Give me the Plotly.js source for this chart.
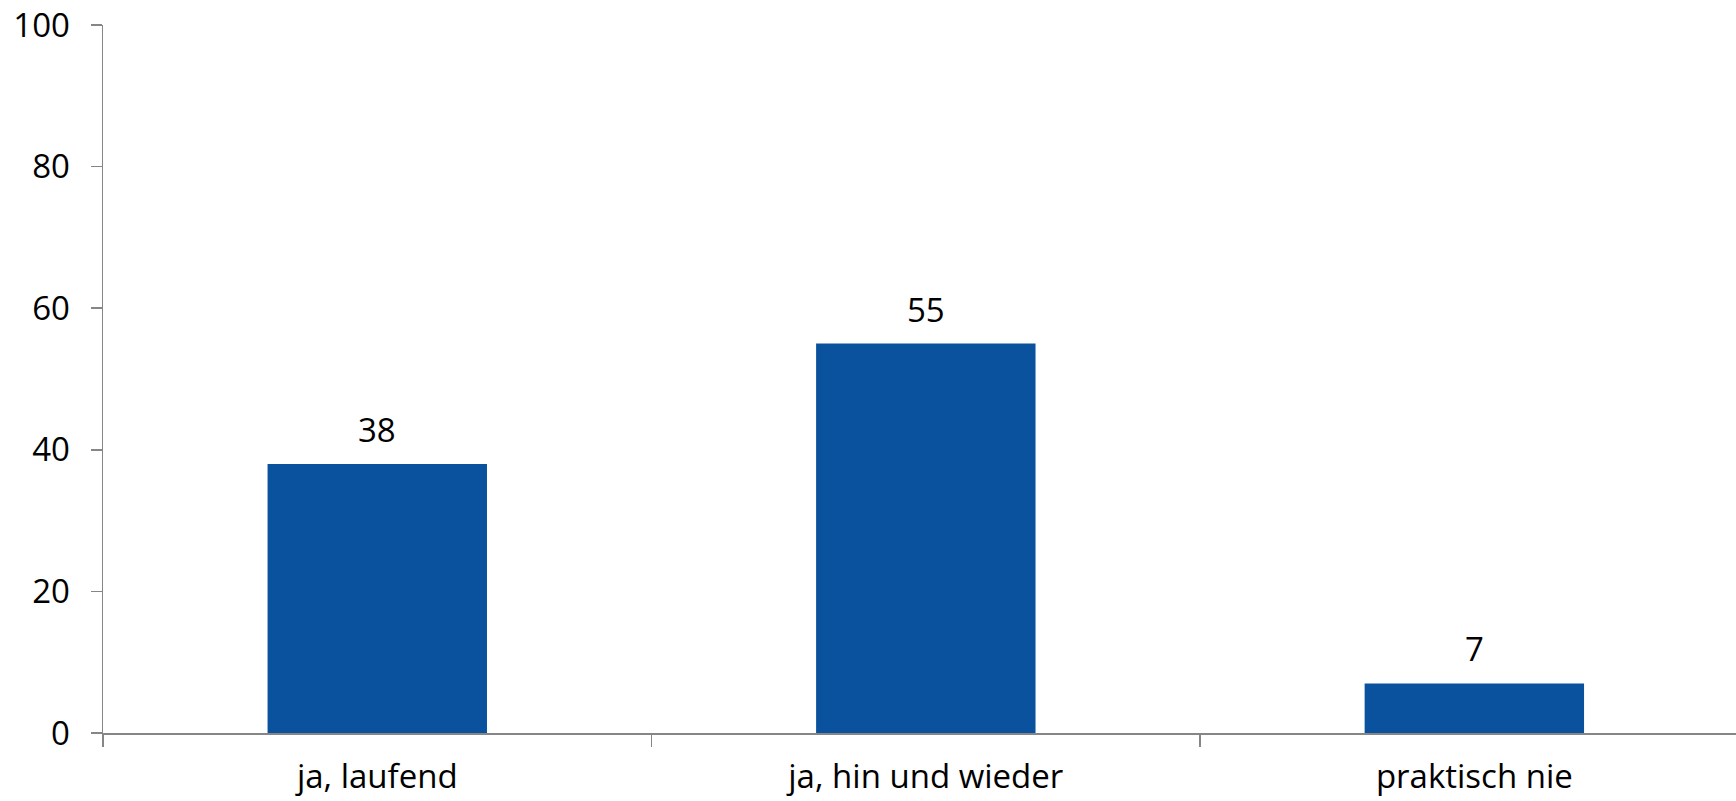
<!DOCTYPE html>
<html>
<head>
<meta charset="utf-8">
<script src="https://cdn.plot.ly/plotly-3.0.1.min.js"></script>
<style>
  html, body { margin: 0; padding: 0; background: #ffffff; }
  #chart { width: 1736px; height: 801px; }
</style>
</head>
<body>
<div id="chart"></div>
<script>
const categories = ["ja, laufend", "ja, hin und wieder", "praktisch nie"];
const values = [38, 55, 7];
const yTicks = [0, 20, 40, 60, 80, 100];

const barColor = "rgb(10,82,158)";
const axisColor = "#868686";
const fontFamily = "'Open Sans', 'Noto Sans', sans-serif";

const trace = {
  type: "bar",
  x: categories,
  y: values,
  marker: { color: barColor, line: { width: 0 } },
  hoverinfo: "skip"
};

const annotations = categories.map((c, i) => ({
  x: c,
  y: values[i],
  xref: "x",
  yref: "y",
  text: String(values[i]),
  showarrow: false,
  yanchor: "bottom",
  xanchor: "center",
  yshift: 10,
  font: { family: fontFamily, size: 33, color: "#000000" }
}));

const layout = {
  width: 1736,
  height: 801,
  margin: { l: 103, r: 0, t: 25, b: 68, pad: 0 },
  paper_bgcolor: "#ffffff",
  plot_bgcolor: "#ffffff",
  showlegend: false,
  bargap: 0.6,
  font: { family: fontFamily, size: 33, color: "#000000" },
  xaxis: {
    type: "category",
    range: [-0.5, 2.477],
    tickson: "boundaries",
    ticks: "outside",
    ticklen: 12,
    tickwidth: 1.5,
    tickcolor: axisColor,
    showline: true,
    linecolor: axisColor,
    linewidth: 1.5,
    showgrid: false,
    zeroline: false,
    ticklabelstandoff: 14,
    tickfont: { family: fontFamily, size: 33, color: "#000000" },
    fixedrange: true
  },
  yaxis: {
    range: [0, 100],
    tickmode: "array",
    tickvals: yTicks,
    ticktext: yTicks.map(String),
    ticks: "outside",
    ticklen: 11,
    tickwidth: 1.5,
    tickcolor: axisColor,
    showline: true,
    linecolor: axisColor,
    linewidth: 1.5,
    showgrid: false,
    zeroline: false,
    ticklabelstandoff: 14,
    tickfont: { family: fontFamily, size: 33, color: "#000000" },
    fixedrange: true
  },
  annotations: annotations
};

Plotly.newPlot("chart", [trace], layout, { displayModeBar: false, staticPlot: true });
</script>
</body>
</html>
